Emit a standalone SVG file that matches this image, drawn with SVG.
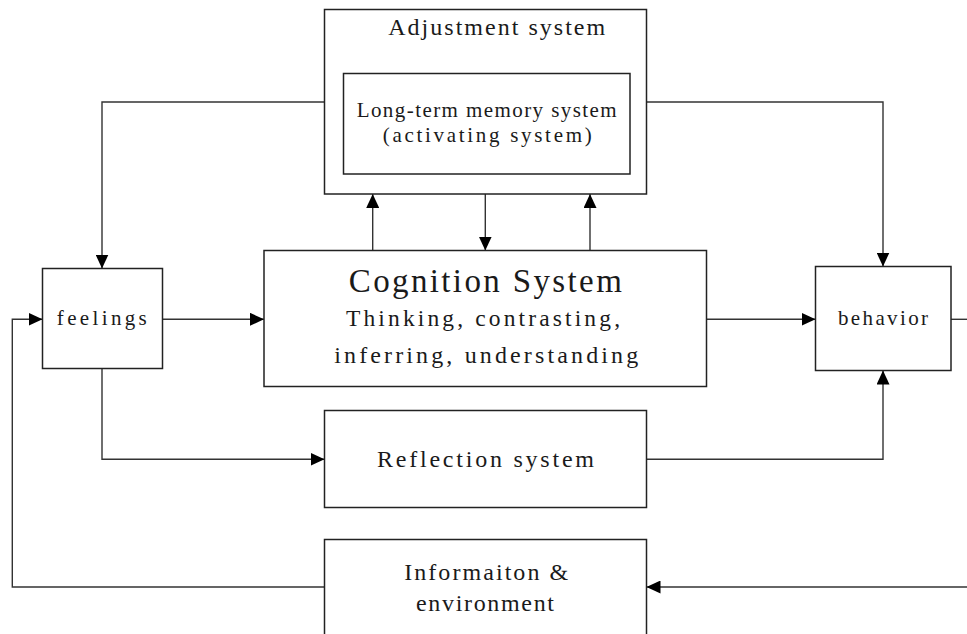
<svg xmlns="http://www.w3.org/2000/svg" width="967" height="634" viewBox="0 0 967 634">
  <style>
    .box { fill: #ffffff; stroke: #222222; stroke-width: 1.5; }
    .wire { fill: none; stroke: #333333; stroke-width: 1.4; }
    .lbl { font-family: "Liberation Serif", "DejaVu Serif", "Noto Sans CJK SC", serif; fill: #1a1a1a; text-anchor: middle; }
  </style>
  <defs>
    <marker id="arrow" markerUnits="userSpaceOnUse" markerWidth="14" markerHeight="13" refX="14" refY="6.5" orient="auto">
      <path d="M0,0 L14,6.5 L0,13 Z" fill="#000000"/>
    </marker>
  </defs>

  <rect x="0" y="0" width="967" height="634" fill="#ffffff"/>

  <!-- connectors -->
  <g id="connectors">
    <path class="wire" d="M324.5,102 H102 V268.5" marker-end="url(#arrow)"/>
    <path class="wire" d="M646.5,102 H883 V266.5" marker-end="url(#arrow)"/>
    <path class="wire" d="M372.7,250.5 V194" marker-end="url(#arrow)"/>
    <path class="wire" d="M485.3,194 V250.5" marker-end="url(#arrow)"/>
    <path class="wire" d="M590,250.5 V194" marker-end="url(#arrow)"/>
    <path class="wire" d="M162.5,319.3 H264" marker-end="url(#arrow)"/>
    <path class="wire" d="M706.5,319.3 H815.5" marker-end="url(#arrow)"/>
    <path class="wire" d="M951,319.3 H967"/>
    <path class="wire" d="M102,368.5 V459.3 H324.5" marker-end="url(#arrow)"/>
    <path class="wire" d="M646.5,459.3 H883 V370.5" marker-end="url(#arrow)"/>
    <path class="wire" d="M324.5,587 H12.3 V319.3 H42.5" marker-end="url(#arrow)"/>
    <path class="wire" d="M967,587 H646.5" marker-end="url(#arrow)"/>
  </g>

  <g id="adjustment">
    <rect class="box" x="324.5" y="9.5" width="322" height="184.5"/>
    <text class="lbl" x="496.7" y="35" font-size="24" textLength="217">Adjustment system</text>
  </g>

  <g id="memory">
    <rect class="box" x="343.5" y="73.5" width="286.5" height="100.5"/>
    <text class="lbl" x="486.7" y="117" font-size="21" textLength="260">Long-term memory system</text>
    <text class="lbl" x="487.2" y="141.5" font-size="21" textLength="209">(activating system)</text>
  </g>

  <g id="cognition">
    <rect class="box" x="264" y="250.5" width="442.5" height="136"/>
    <text class="lbl" x="485.3" y="291.7" font-size="33" textLength="273">Cognition System</text>
    <text class="lbl" x="483" y="326" font-size="23.5" textLength="274">Thinking, contrasting,</text>
    <text class="lbl" x="486.2" y="363" font-size="24" textLength="304">inferring, understanding</text>
  </g>

  <g id="feelings">
    <rect class="box" x="42.5" y="268.5" width="120" height="100"/>
    <text class="lbl" x="101.8" y="325" font-size="21" textLength="90">feelings</text>
  </g>

  <g id="behavior">
    <rect class="box" x="815.5" y="266.5" width="135.5" height="104"/>
    <text class="lbl" x="883" y="325" font-size="21" textLength="90">behavior</text>
  </g>

  <g id="reflection">
    <rect class="box" x="324.5" y="410.5" width="322" height="97"/>
    <text class="lbl" x="485.5" y="466.7" font-size="24" textLength="217">Reflection system</text>
  </g>

  <g id="information">
    <rect class="box" x="324.5" y="539.5" width="322" height="110"/>
    <text class="lbl" x="486.2" y="580" font-size="24" textLength="164">Informaiton &amp;</text>
    <text class="lbl" x="485" y="611" font-size="24" textLength="138">environment</text>
  </g>
</svg>
